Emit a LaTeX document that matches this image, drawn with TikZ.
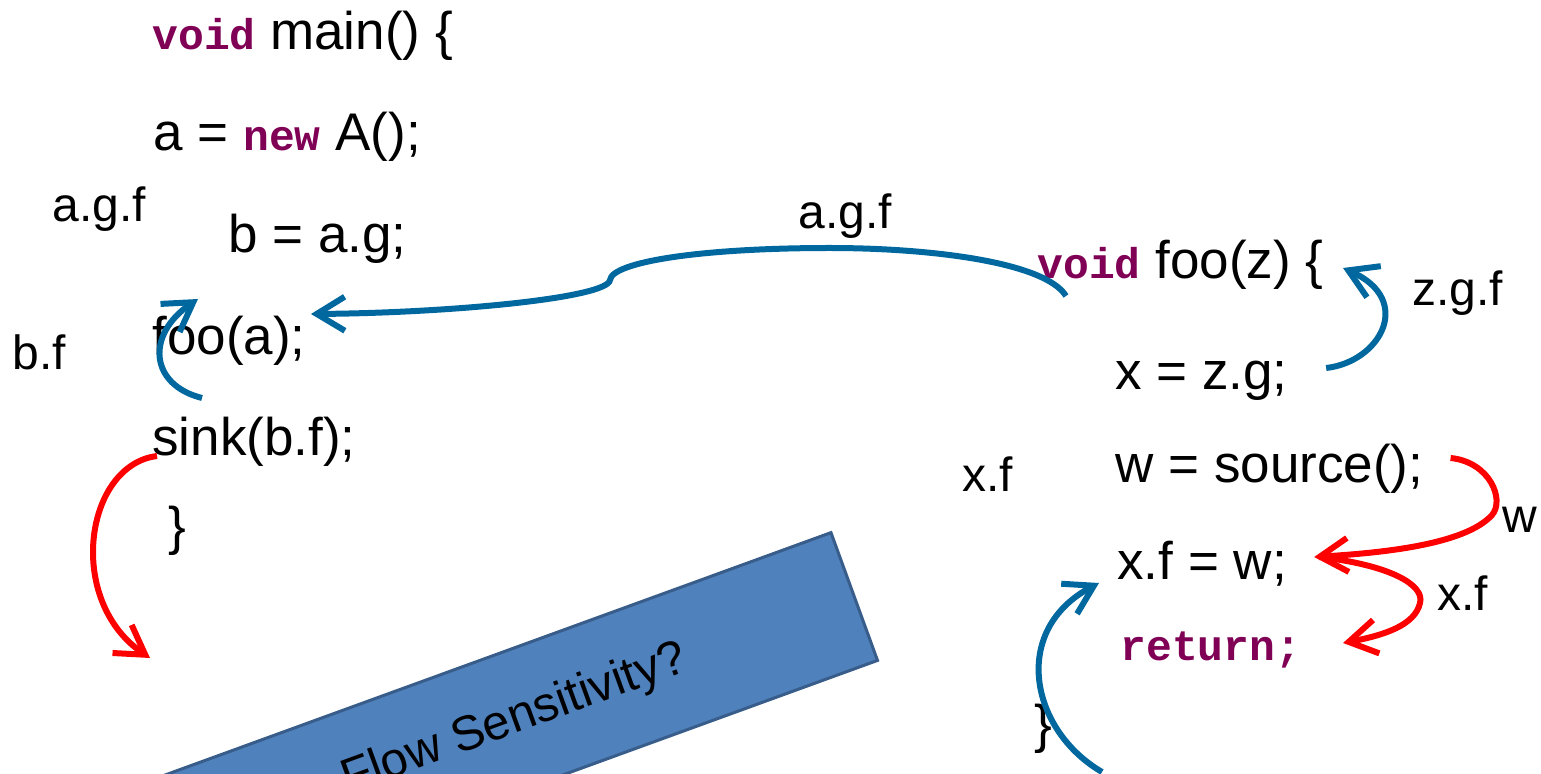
\documentclass[tikz,border=0pt]{standalone}
\usepackage{fontspec}
\setmainfont{Liberation Sans}
\newfontfamily\kwfont{Liberation Mono}
\usetikzlibrary{arrows.meta}
\definecolor{kwpurple}{RGB}{127,0,85}
\definecolor{flowblue}{RGB}{0,104,158}
\definecolor{boxfill}{RGB}{79,129,189}
\definecolor{boxdraw}{RGB}{56,93,138}
\newcommand{\kw}[1]{{\kwfont\bfseries\fontsize{21.5}{26}\selectfont\color{kwpurple}#1}}
\tikzstyle{codeline} = [anchor=base west, inner sep=0pt, font=\fontsize{26.5}{32}\selectfont]
\tikzstyle{lbl} = [anchor=base west, inner sep=0pt, font=\fontsize{24}{29}\selectfont]
\tikzstyle{banner} = [rectangle, rotate=20, minimum width=361pt, minimum height=68pt, fill=boxfill, draw=boxdraw, line width=1.5pt, font=\fontsize{24.4}{29}\selectfont]
\tikzstyle{blueflow} = [draw=flowblue, line width=3pt, -{Straight Barb[length=14pt,width=17pt]}]
\tikzstyle{redflow} = [draw=red, line width=3pt, -{Straight Barb[length=14pt,width=17pt]}]

\begin{document}
\begin{tikzpicture}[x=0.5pt, y=-0.5pt]
    \useasboundingbox (0,0) rectangle (1541,774);
    \clip (0,0) rectangle (1541,774);

    % Banner
    \node (flowbox) [banner] at (515,720) {Flow Sensitivity?};

    % main()
    \node (mainhead) [codeline] at (152,50) {\kw{void} main() \{};
    \node (anew) [codeline] at (153,151) {a = \kw{new} A();};
    \node (bline) [codeline] at (228,253) {b = a.g;};
    \node (fooa) [codeline] at (152,355) {foo(a);};
    \node (sink) [codeline] at (152,456) {sink(b.f);};
    \node (mbrace) [codeline] at (168,545) {\}};
    \coordinate (mainexit) at (150,658);

    % foo(z)
    \node (foohead) [codeline] at (1037,279) {\kw{void} foo(z) \{};
    \node (xzg) [codeline] at (1115,390) {x = z.g;};
    \node (wsrc) [codeline] at (1115,483) {w = source();};
    \node (xfw) [codeline] at (1117,580) {x.f = w;};
    \node (ret) [codeline] at (1120,660) {\kw{return;}};
    \node (fbrace) [codeline] at (1034,742) {\}};

    % Labels
    \node (lagf) [lbl] at (52,222) {a.g.f};
    \node (lbf) [lbl] at (12,370) {b.f};
    \node (lcall) [lbl] at (798,229) {a.g.f};
    \node (lzgf) [lbl] at (1412,306) {z.g.f};
    \node (lxf) [lbl] at (962,492) {x.f};
    \node (lw) [lbl] at (1502,532) {w};
    \node (lxf2) [lbl] at (1437,610) {x.f};

    % Flows in main()
    \draw [blueflow] ([shift={(50,43)}]fooa.base west) .. controls (150,385) and (145,335) .. ([shift={(-30,46)}]bline.base west);
    \draw [redflow] ([shift={(5,0)}]sink.base west) .. controls (85,465) and (65,600) .. (mainexit);

    % Call edge
    \draw [blueflow] ([shift={(29,17)}]foohead.base west) .. controls (1045,262) and (930,248) .. (830,248) .. controls (700,248) and (612,262) .. (610,280) .. controls (608,298) and (450,313) .. ([shift={(5,-41)}]fooa.base east);

    % Flows in foo(z)
    \draw [blueflow] ([shift={(38,-22)}]xzg.base east) .. controls (1380,362) and (1415,300) .. ([shift={(306,-11)}]foohead.base west);
    \draw [redflow] ([shift={(27,-25)}]wsrc.base east) .. controls (1490,462) and (1505,500) .. (1492,515) .. controls (1465,545) and (1380,553) .. ([shift={(27,-23)}]xfw.base east);
    \draw [redflow] ([shift={(32,-23)}]xfw.base east) .. controls (1390,565) and (1425,585) .. (1420,603) .. controls (1415,625) and (1385,635) .. ([shift={(223,-17)}]ret.base west);
    \draw [blueflow] ([shift={(68,30)}]fbrace.base west) .. controls (1030,730) and (1010,630) .. ([shift={(-18,3)}]xfw.base west);

\end{tikzpicture}
\end{document}
